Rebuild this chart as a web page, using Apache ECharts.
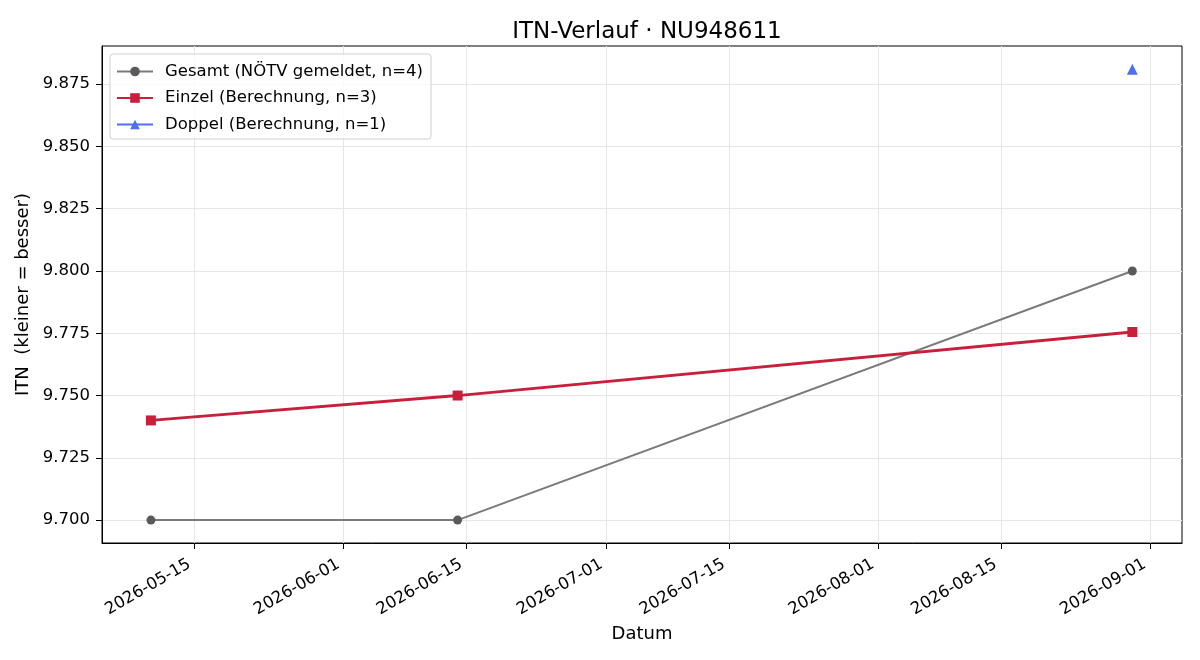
<!DOCTYPE html>
<html>
<head>
<meta charset="utf-8">
<script src="https://cdn.jsdelivr.net/npm/echarts@6/dist/echarts.min.js"></script>
<style>
    html, body { margin: 0; padding: 0; background: #fff; }
    #itnChart { width: 1200px; height: 660px; }
</style>
</head>
<body>
<div id="itnChart"></div>
<script>
// Daten
var gesamtDates = ['2026-05-10', '2026-06-14', '2026-08-30'];
var gesamtValues = [9.700, 9.700, 9.800];
var einzelDates = ['2026-05-10', '2026-06-14', '2026-08-30'];
var einzelValues = [9.740, 9.750, 9.7755];
var doppelDates = ['2026-08-30'];
var doppelValues = [9.881];
var xTickDates = ['2026-05-15', '2026-06-01', '2026-06-15', '2026-07-01', '2026-07-15', '2026-08-01', '2026-08-15', '2026-09-01'];
var yTicks = [9.700, 9.725, 9.750, 9.775, 9.800, 9.825, 9.850, 9.875];

function ts (s) {
    return +echarts.time.parse(s);
}
function pairs (dates, values) {
    var out = [];
    for (var i = 0; i < dates.length; i++) {
        out.push([ts(dates[i]), values[i]]);
    }
    return out;
}

var xTicks = xTickDates.map(ts);
var font = 'DejaVu Sans';
var gridColor = '#e6e6e6';

var myChart = echarts.init(document.getElementById('itnChart'));
var option = {
    animation: false,
    textStyle: { fontFamily: font },
    title: {
        text: 'ITN-Verlauf · NU948611',
        left: 642,
        top: 16,
        textAlign: 'center',
        textStyle: { fontFamily: font, fontSize: 23, fontWeight: 'normal', color: '#000' }
    },
    grid: {
        left: 102,
        right: 18,
        top: 46,
        bottom: 117,
        show: true,
        borderColor: '#000',
        borderWidth: 1
    },
    legend: {
        left: 110,
        top: 54,
        orient: 'vertical',
        itemWidth: 36,
        itemHeight: 12,
        itemGap: 9.5,
        padding: [9, 8, 6, 6],
        borderColor: '#d0d0d0',
        borderWidth: 1,
        borderRadius: 3,
        backgroundColor: 'rgba(255,255,255,0.8)',
        textStyle: { fontFamily: font, fontSize: 16.5, color: '#000', padding: [0, 0, 0, 7] },
        data: ['Gesamt (NÖTV gemeldet, n=4)', 'Einzel (Berechnung, n=3)', 'Doppel (Berechnung, n=1)']
    },
    xAxis: {
        type: 'value',
        min: ts('2026-05-04') + 10 * 3600 * 1000,
        max: ts('2026-09-04') + 16 * 3600 * 1000,
        name: 'Datum',
        nameLocation: 'middle',
        nameGap: 82,
        nameTextStyle: { fontFamily: font, fontSize: 18, color: '#000' },
        axisLine: { lineStyle: { color: '#000' } },
        axisTick: { customValues: xTicks, length: 6, inside: false, lineStyle: { color: '#000' } },
        axisLabel: {
            customValues: xTicks,
            rotate: 30,
            fontSize: 16.5,
            color: '#000',
            margin: 17,
            padding: [0, 6, 0, 0],
            formatter: function (v) {
                return echarts.time.format(v, '{yyyy}-{MM}-{dd}', false);
            }
        },
        splitLine: { show: true, lineStyle: { color: gridColor } }
    },
    yAxis: {
        type: 'value',
        min: 9.6908,
        max: 9.8903,
        name: 'ITN  (kleiner = besser)',
        nameLocation: 'middle',
        nameGap: 62,
        nameTextStyle: { fontFamily: font, fontSize: 18, color: '#000' },
        axisLine: { show: true, lineStyle: { color: '#000' } },
        axisTick: { show: true, customValues: yTicks, length: 6, lineStyle: { color: '#000' } },
        axisLabel: {
            customValues: yTicks,
            fontSize: 16.5,
            color: '#000',
            margin: 12,
            formatter: function (v) { return v.toFixed(3); }
        },
        splitLine: { show: true, lineStyle: { color: gridColor } }
    },
    series: [
        {
            name: 'Gesamt (NÖTV gemeldet, n=4)',
            type: 'line',
            data: pairs(gesamtDates, gesamtValues),
            symbol: 'circle',
            symbolSize: 9,
            lineStyle: { color: '#7a7a7a', width: 2 },
            itemStyle: { color: '#5a5a5a' },
            z: 2
        },
        {
            name: 'Einzel (Berechnung, n=3)',
            type: 'line',
            data: pairs(einzelDates, einzelValues),
            symbol: 'rect',
            symbolSize: 10,
            lineStyle: { color: '#c8203c', width: 2.8 },
            itemStyle: { color: '#c8203c' },
            z: 3
        },
        {
            name: 'Doppel (Berechnung, n=1)',
            type: 'line',
            data: pairs(doppelDates, doppelValues),
            symbol: 'triangle',
            symbolSize: 11,
            lineStyle: { color: '#4f6ef0', width: 2.8 },
            itemStyle: { color: '#4f6ef0' },
            z: 4
        }
    ]
};
myChart.setOption(option);
</script>
</body>
</html>
